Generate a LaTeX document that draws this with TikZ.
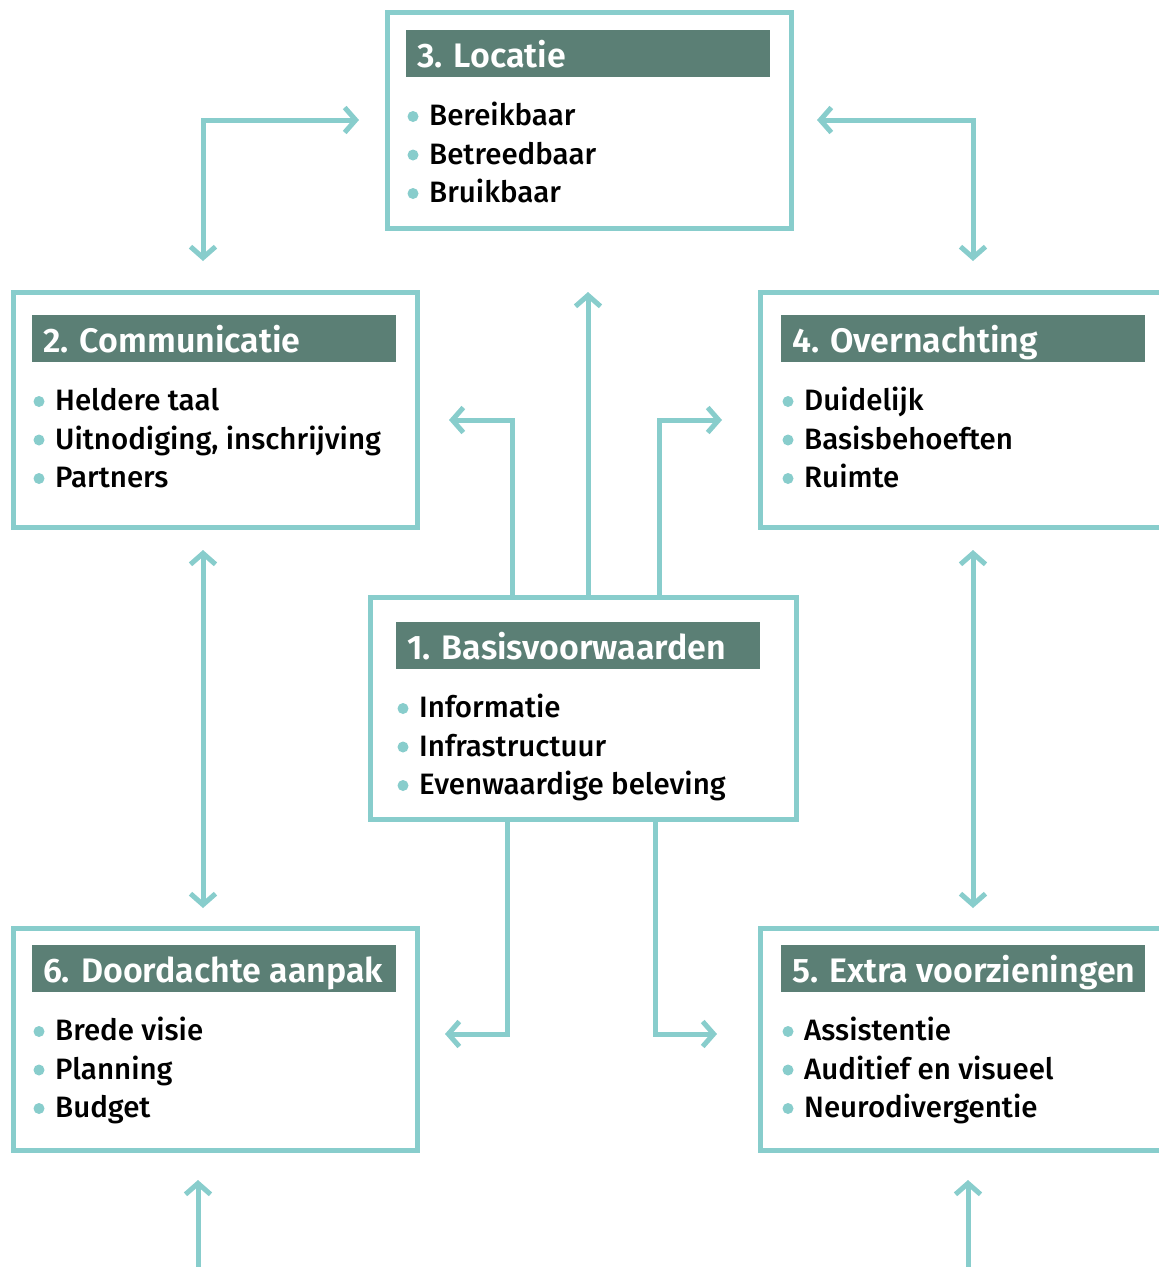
\documentclass[tikz,border=0pt]{standalone}
\usepackage{fontspec}
\setmainfont{Fira Sans}[UprightFont={* Medium},BoldFont={* SemiBold}]
\usetikzlibrary{arrows.meta}
\definecolor{teal1}{HTML}{88CDCC}
\definecolor{hdr}{HTML}{5B7F75}
\tikzset{
  x=1pt, y=-1pt,
  boxframe/.style={draw=teal1, line width=5pt, fill=white, inner sep=0pt, outer sep=0pt, anchor=north west},
  hdrbar/.style={fill=hdr, inner sep=0pt, outer sep=0pt, minimum width=364pt, minimum height=47pt, anchor=north west},
  hdrtext/.style={text=white, font=\bfseries\fontsize{34}{40}\selectfont, anchor=base west, inner sep=0pt},
  itemtext/.style={font=\fontsize{29.5}{34}\selectfont, anchor=base west, inner sep=0pt},
  bdot/.style={circle, fill=teal1, minimum size=11pt, inner sep=0pt},
  barb/.tip={Straight Barb[length=11pt,width=25pt]},
  conn/.style={draw=teal1, line width=5pt, line join=miter},
}
% #1 name, #2 x0, #3 y0, #4 x1, #5 y1, #6 header corner, #7 title, #8 items
\newcommand\panel[8]{%
  \node[boxframe, minimum width={#4-#2}, minimum height={#5-#3}] (#1) at (#2,#3) {};
  \node[hdrbar] (#1h) at (#6) {};
  \node[hdrtext] (#1t) at ([xshift=11pt,yshift=-37.5pt]#1h.north west) {#7};
  \foreach \itm [count=\i] in {#8} {
    \node[itemtext] (#1i\i) at ([xshift=23pt,yshift={-48.5-(\i-1)*38.5}]#1h.south west) {\itm};
    \node[bdot] (#1d\i) at ([xshift=-16pt,yshift=9pt]#1i\i.base west) {};
  }%
}
\begin{document}
\begin{tikzpicture}
\useasboundingbox (0,0) rectangle (1159,1267);
\clip (0,0) rectangle (1159,1267);

% panels
\panel{p3}{387}{12}{791}{228}{406,30}{3. Locatie}{Bereikbaar,Betreedbaar,Bruikbaar}
\panel{p2}{13}{292}{417}{527}{32,315}{2. Communicatie}{Heldere taal,{Uitnodiging, inschrijving},Partners}
\panel{p4}{760}{292}{1180}{527}{781,315}{4. Overnachting}{Duidelijk,Basisbehoeften,Ruimte}
\panel{p1}{370}{597}{796}{819}{396,622}{1. Basisvoorwaarden}{Informatie,Infrastructuur,Evenwaardige beleving}
\panel{p6}{13}{928}{417}{1150}{32,945}{6. Doordachte aanpak}{Brede visie,Planning,Budget}
\panel{p5}{760}{928}{1180}{1150}{781,945}{5. Extra voorzieningen}{Assistentie,Auditief en visueel,Neurodivergentie}

% free ends of connectors
\coordinate (c23a) at (203,261);
\coordinate (c23b) at (359,120);
\coordinate (c34a) at (817,120);
\coordinate (c34b) at (973,261);
\coordinate (c26a) at (203,550);
\coordinate (c26b) at (203,908);
\coordinate (c45a) at (973,550);
\coordinate (c45b) at (973,908);
\coordinate (c12) at (449,420);
\coordinate (c13) at (588,292);
\coordinate (c14) at (722,420);
\coordinate (c16) at (445,1034);
\coordinate (c15) at (717,1034);
\coordinate (c6in) at (198,1180);
\coordinate (c6src) at (198,1275);
\coordinate (c5in) at (968,1180);
\coordinate (c5src) at (968,1275);

% connectors
\draw[conn, barb-barb] (c23a) |- (c23b);
\draw[conn, barb-barb] (c34a) -| (c34b);
\draw[conn, barb-barb] (c26a) -- (c26b);
\draw[conn, barb-barb] (c45a) -- (c45b);
\draw[conn, -barb] (p1.north -| 512,0) |- (c12);
\draw[conn, -barb] (p1.north -| c13) -- (c13);
\draw[conn, -barb] (p1.north -| 659,0) |- (c14);
\draw[conn, -barb] (p1.south -| 507,0) |- (c16);
\draw[conn, -barb] (p1.south -| 655,0) |- (c15);
\draw[conn, -barb] (c6src) -- (c6in);
\draw[conn, -barb] (c5src) -- (c5in);
\end{tikzpicture}
\end{document}
